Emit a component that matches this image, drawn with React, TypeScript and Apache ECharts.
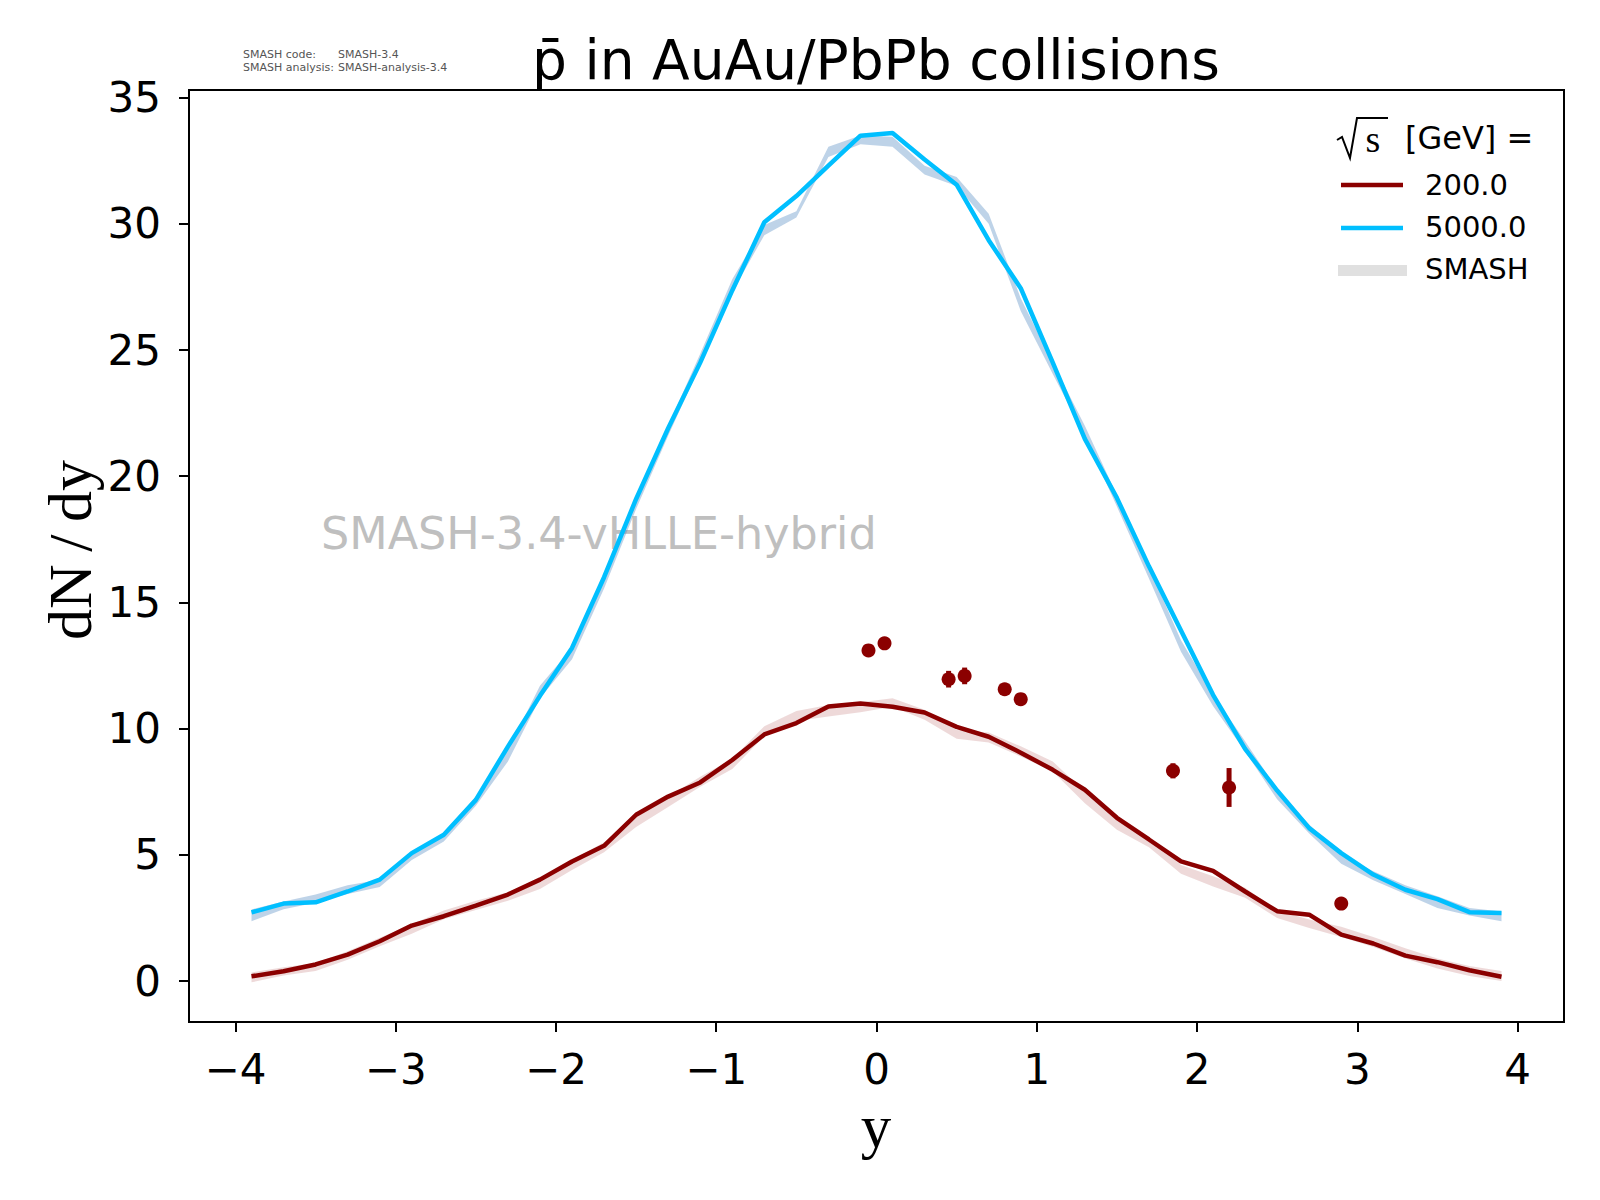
import React, { useEffect, useRef } from "react";
import * as echarts from "echarts";

const xs = [-3.9, -3.7, -3.5, -3.3, -3.1, -2.9, -2.7, -2.5, -2.3, -2.1, -1.9, -1.7, -1.5, -1.3, -1.1, -0.9, -0.7, -0.5, -0.3, -0.1,
  0.1, 0.3, 0.5, 0.7, 0.9, 1.1, 1.3, 1.5, 1.7, 1.9, 2.1, 2.3, 2.5, 2.7, 2.9, 3.1, 3.3, 3.5, 3.7, 3.9];

const line200 = [0.19, 0.39, 0.66, 1.05, 1.58, 2.2, 2.57, 2.99, 3.43, 4.02, 4.74, 5.36, 6.59, 7.31, 7.87, 8.76, 9.77, 10.22, 10.88, 11.0,
  10.87, 10.64, 10.07, 9.68, 9.05, 8.37, 7.58, 6.47, 5.61, 4.74, 4.37, 3.55, 2.77, 2.63, 1.84, 1.49, 1.01, 0.75, 0.43, 0.17];

const line5000 = [2.72, 3.07, 3.12, 3.55, 4.02, 5.07, 5.8, 7.18, 9.29, 11.3, 13.2, 16.0, 19.1, 21.9, 24.5, 27.36, 30.06, 31.1, 32.3, 33.49,
  33.6, 32.55, 31.55, 29.35, 27.45, 24.5, 21.48, 19.14, 16.43, 13.89, 11.34, 9.2, 7.55, 6.06, 5.07, 4.22, 3.62, 3.25, 2.73, 2.7];

const band200Lo = [-0.05, 0.22, 0.4, 0.85, 1.38, 1.88, 2.45, 2.82, 3.18, 3.65, 4.4, 5.1, 6.1, 6.9, 7.7, 8.4, 9.7, 10.3, 10.48, 10.65,
  10.87, 10.35, 9.6, 9.45, 8.9, 8.3, 7.05, 6.0, 5.3, 4.25, 3.75, 3.3, 2.5, 2.1, 1.75, 1.35, 0.9, 0.5, 0.2, 0.0];
const band200Hi = [0.34, 0.55, 0.72, 1.18, 1.72, 2.25, 2.8, 3.18, 3.52, 4.05, 4.8, 5.5, 6.5, 7.3, 8.1, 8.8, 10.1, 10.7, 10.94, 11.05,
  11.2, 10.75, 9.95, 9.85, 9.3, 8.7, 7.51, 6.4, 5.7, 4.6, 4.15, 3.7, 2.8, 2.44, 2.15, 1.75, 1.3, 0.9, 0.6, 0.4];

const band5000Lo = [2.37, 2.85, 3.1, 3.45, 3.73, 4.8, 5.53, 6.95, 8.7, 11.2, 12.75, 15.55, 18.7, 21.6, 24.4, 27.3, 29.55, 30.25, 32.65, 33.15,
  33.05, 31.95, 31.5, 30.0, 26.55, 24.05, 21.6, 18.8, 15.95, 13.05, 10.9, 9.1, 7.2, 5.85, 4.65, 4.0, 3.45, 2.9, 2.6, 2.37];
const band5000Hi = [2.84, 3.15, 3.43, 3.8, 4.02, 5.08, 5.88, 7.3, 9.15, 11.7, 13.2, 16.0, 19.1, 22.0, 24.85, 27.8, 29.95, 30.5, 33.05, 33.5,
  33.45, 32.3, 31.85, 30.4, 27.05, 24.5, 22.0, 19.25, 16.4, 13.5, 11.35, 9.5, 7.6, 6.2, 5.0, 4.35, 3.8, 3.36, 2.9, 2.76];

const expX = [-0.05, 0.05, 0.45, 0.55, 0.8, 0.9, 1.85, 2.2, 2.9];
const expY = [13.1, 13.38, 11.96, 12.09, 11.56, 11.17, 8.33, 7.67, 3.07];
const expErr = [0.25, 0.1, 0.33, 0.33, 0.12, 0.22, 0.3, 0.77, 0.1];

const xTicks = [-4, -3, -2, -1, 0, 1, 2, 3, 4];
const yTicks = [0, 5, 10, 15, 20, 25, 30, 35];

const RED = "#8b0000";
const BLUE = "#00bfff";

function bandSeries(lo: number[], hi: number[], fill: string) {
  return {
    type: "custom",
    silent: true,
    z: 1,
    clip: true,
    data: xs.map((x, i) => [x, lo[i], hi[i]]),
    encode: { x: 0, y: [1, 2] },
    renderItem: (params: any, api: any) => {
      if (params.dataIndex !== 0) return null;
      const pts: number[][] = [];
      for (let i = 0; i < xs.length; i++) pts.push(api.coord([xs[i], hi[i]]));
      for (let i = xs.length - 1; i >= 0; i--) pts.push(api.coord([xs[i], lo[i]]));
      return { type: "polygon", shape: { points: pts }, style: { fill } };
    },
  };
}

const fmt = (v: number) => (v < 0 ? "\u2212" + Math.abs(v) : String(v));

export default function App() {
  const ref = useRef<HTMLDivElement>(null);
  useEffect(() => {
    document.body.style.margin = "0";
    const chart = echarts.init(ref.current!, undefined, { renderer: "svg" });
    const sans = "DejaVu Sans";
    chart.setOption({
      animation: false,
      backgroundColor: "#ffffff",
      grid: {
        left: 189, right: 36, top: 90, bottom: 178,
        show: true, borderColor: "#000", borderWidth: 2, backgroundColor: "transparent",
        containLabel: false, outerBoundsMode: "none",
      },
      xAxis: {
        type: "value", min: -4.29, max: 4.29,
        axisLine: { show: true, onZero: false, lineStyle: { color: "#000", width: 2 } },
        axisTick: { show: true, length: 10, lineStyle: { color: "#000", width: 2 }, customValues: xTicks },
        axisLabel: { customValues: xTicks, formatter: fmt, fontSize: 42, color: "#000", fontFamily: sans, margin: 26 },
        splitLine: { show: false },
      },
      yAxis: {
        type: "value", min: -1.62, max: 35.3,
        axisLine: { show: true, onZero: false, lineStyle: { color: "#000", width: 2 } },
        axisTick: { show: true, length: 10, lineStyle: { color: "#000", width: 2 }, customValues: yTicks },
        axisLabel: { customValues: yTicks, formatter: fmt, fontSize: 42, color: "#000", fontFamily: sans, margin: 28 },
        splitLine: { show: false },
      },
      series: [
        bandSeries(band200Lo, band200Hi, "rgba(139,0,0,0.15)"),
        bandSeries(band5000Lo, band5000Hi, "rgba(70,130,190,0.35)"),
        {
          type: "line", name: "200.0", data: xs.map((x, i) => [x, line200[i]]),
          showSymbol: false, symbol: "none", lineStyle: { color: RED, width: 4.5 }, z: 3,
        },
        {
          type: "line", name: "5000.0", data: xs.map((x, i) => [x, line5000[i]]),
          showSymbol: false, symbol: "none", lineStyle: { color: BLUE, width: 4.5 }, z: 3,
        },
        {
          type: "custom", z: 4, silent: true,
          data: expX.map((x, i) => [x, expY[i] - expErr[i], expY[i] + expErr[i]]),
          encode: { x: 0, y: [1, 2] },
          renderItem: (params: any, api: any) => {
            const a = api.coord([api.value(0), api.value(1)]);
            const b = api.coord([api.value(0), api.value(2)]);
            return { type: "line", shape: { x1: a[0], y1: a[1], x2: b[0], y2: b[1] }, style: { stroke: RED, lineWidth: 5 } };
          },
        },
        {
          type: "scatter", data: expX.map((x, i) => [x, expY[i]]), symbol: "circle", symbolSize: 14,
          itemStyle: { color: RED, opacity: 1 }, z: 5,
        },
      ],
      graphic: [
        { type: "text", z: 0, x: 321, y: 533, style: { text: "SMASH-3.4-vHLLE-hybrid", fontSize: 44.5, fontFamily: sans, fill: "#bfbfbf", align: "left", verticalAlign: "middle" } },
        { type: "text", z: 10, x: 876, y: 60, style: { text: "p\u0304 in AuAu/PbPb collisions", fontSize: 55, fontFamily: sans, fill: "#000", align: "center", verticalAlign: "middle" } },
        { type: "text", z: 10, x: 243, y: 54, style: { text: "SMASH code:", fontSize: 11, fontFamily: sans, fill: "#555", align: "left", verticalAlign: "middle" } },
        { type: "text", z: 10, x: 338, y: 54, style: { text: "SMASH-3.4", fontSize: 11, fontFamily: sans, fill: "#555", align: "left", verticalAlign: "middle" } },
        { type: "text", z: 10, x: 243, y: 67, style: { text: "SMASH analysis:", fontSize: 11, fontFamily: sans, fill: "#555", align: "left", verticalAlign: "middle" } },
        { type: "text", z: 10, x: 338, y: 67, style: { text: "SMASH-analysis-3.4", fontSize: 11, fontFamily: sans, fill: "#555", align: "left", verticalAlign: "middle" } },
        { type: "text", z: 10, x: 70, y: 550, rotation: Math.PI / 2, style: { text: "dN\u2009/\u2009dy", fontSize: 62, fontFamily: "Liberation Serif", fill: "#000", align: "center", verticalAlign: "middle" } },
        { type: "text", z: 10, x: 876, y: 1126, style: { text: "y", fontSize: 61, fontFamily: "Liberation Serif", fill: "#000", align: "center", verticalAlign: "middle" } },
        // legend
        { type: "polyline", z: 10, shape: { points: [[1337, 140], [1342, 137], [1350, 158], [1357, 118], [1388, 118]] }, style: { stroke: "#000", lineWidth: 2, fill: null } },
        { type: "text", z: 10, x: 1373, y: 139, style: { text: "s", fontSize: 38, fontFamily: "Liberation Serif", fill: "#000", align: "center", verticalAlign: "middle" } },
        { type: "text", z: 10, x: 1405, y: 138, style: { text: "[GeV] =", fontSize: 32, fontFamily: sans, fill: "#000", align: "left", verticalAlign: "middle" } },
        { type: "line", z: 10, shape: { x1: 1341, y1: 185, x2: 1403, y2: 185 }, style: { stroke: RED, lineWidth: 4.5 } },
        { type: "text", z: 10, x: 1425, y: 185, style: { text: "200.0", fontSize: 29, fontFamily: sans, fill: "#000", align: "left", verticalAlign: "middle" } },
        { type: "line", z: 10, shape: { x1: 1341, y1: 228, x2: 1403, y2: 228 }, style: { stroke: BLUE, lineWidth: 4.5 } },
        { type: "text", z: 10, x: 1425, y: 227, style: { text: "5000.0", fontSize: 29, fontFamily: sans, fill: "#000", align: "left", verticalAlign: "middle" } },
        { type: "rect", z: 10, shape: { x: 1338, y: 265, width: 69, height: 11 }, style: { fill: "#e0e0e0" } },
        { type: "text", z: 10, x: 1425, y: 269, style: { text: "SMASH", fontSize: 29, fontFamily: sans, fill: "#000", align: "left", verticalAlign: "middle" } },
      ],
    });
    return () => chart.dispose();
  }, []);
  return <div ref={ref} style={{ width: 1600, height: 1200 }} />;
}
